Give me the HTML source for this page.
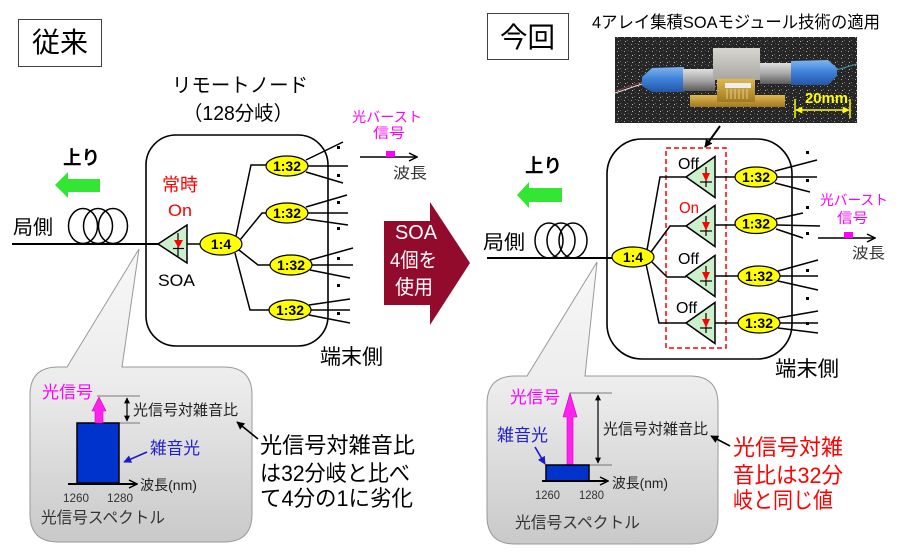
<!DOCTYPE html>
<html><head><meta charset="utf-8"><style>
html,body{margin:0;padding:0;background:#fff;}
svg{display:block;}
text{font-family:"Liberation Sans","Noto Sans CJK JP",sans-serif;}
</style></head><body>
<svg width="900" height="557" viewBox="0 0 900 557" xmlns="http://www.w3.org/2000/svg">
<defs>
<marker id="ah" viewBox="0 0 10 10" refX="9" refY="5" markerWidth="8" markerHeight="8" orient="auto-start-reverse" markerUnits="userSpaceOnUse"><path d="M0,0 L10,5 L0,10 z" fill="#000"/></marker>
<marker id="ahs" viewBox="0 0 10 10" refX="9" refY="5" markerWidth="6" markerHeight="6" orient="auto-start-reverse" markerUnits="userSpaceOnUse"><path d="M0,0 L10,5 L0,10 z" fill="#000"/></marker>
<marker id="ahb" viewBox="0 0 10 10" refX="9" refY="5" markerWidth="8" markerHeight="8" orient="auto" markerUnits="userSpaceOnUse"><path d="M0,0 L10,5 L0,10 z" fill="#1a1acc"/></marker>
<marker id="op" viewBox="0 0 10 10" refX="9" refY="5" markerWidth="10" markerHeight="10" orient="auto" markerUnits="userSpaceOnUse"><path d="M1,1 L9,5 L1,9" fill="none" stroke="#000" stroke-width="1.5"/></marker>
<marker id="ay" viewBox="0 0 10 10" refX="9" refY="5" markerWidth="7" markerHeight="7" orient="auto-start-reverse" markerUnits="userSpaceOnUse"><path d="M0,0 L10,5 L0,10 z" fill="#ffff00"/></marker>
<linearGradient id="cg1" gradientUnits="userSpaceOnUse" x1="0" y1="249" x2="0" y2="542"><stop offset="0" stop-color="#f8f8f8"/><stop offset="0.45" stop-color="#ececec"/><stop offset="1" stop-color="#c9c9c9"/></linearGradient>
<linearGradient id="cg2" gradientUnits="userSpaceOnUse" x1="0" y1="262" x2="0" y2="544"><stop offset="0" stop-color="#f8f8f8"/><stop offset="0.45" stop-color="#ececec"/><stop offset="1" stop-color="#c9c9c9"/></linearGradient>
<linearGradient id="blue" x1="0" y1="0" x2="0" y2="1"><stop offset="0" stop-color="#7fb4f0"/><stop offset="0.5" stop-color="#3d80d8"/><stop offset="1" stop-color="#2556a8"/></linearGradient>
<linearGradient id="silv" x1="0" y1="0" x2="0" y2="1"><stop offset="0" stop-color="#e0e0e0"/><stop offset="0.5" stop-color="#a8a8a8"/><stop offset="1" stop-color="#5a5a5a"/></linearGradient>
<linearGradient id="box" x1="0" y1="0" x2="0" y2="1"><stop offset="0" stop-color="#d8d6d0"/><stop offset="1" stop-color="#a8a6a0"/></linearGradient>
<linearGradient id="gold" x1="0" y1="0" x2="0" y2="1"><stop offset="0" stop-color="#e0b850"/><stop offset="1" stop-color="#a07820"/></linearGradient>
<pattern id="spk" width="7" height="7" patternUnits="userSpaceOnUse"><rect width="7" height="7" fill="#262626"/><rect x="1" y="2" width="1" height="1" fill="#999"/><rect x="4" y="5" width="1" height="1" fill="#666"/><rect x="5" y="1" width="1" height="1" fill="#555"/><rect x="2" y="6" width="1" height="1" fill="#bbb"/></pattern>
</defs>

<!-- ===== LEFT (従来) ===== -->
<rect x="18.5" y="19.5" width="83" height="47" fill="#fff" stroke="#404040" stroke-width="1"/>
<text x="32" y="52" font-size="28" textLength="56" lengthAdjust="spacingAndGlyphs">従来</text>

<text x="172" y="92" font-size="20" textLength="136" lengthAdjust="spacingAndGlyphs">リモートノード</text>
<text x="183" y="120" font-size="20" textLength="110" lengthAdjust="spacingAndGlyphs">（128分岐）</text>

<text x="352" y="122" font-size="14" fill="#ff00ff" textLength="70" lengthAdjust="spacingAndGlyphs">光バースト</text>
<text x="373" y="138" font-size="14" fill="#ff00ff" textLength="32" lengthAdjust="spacingAndGlyphs">信号</text>
<line x1="360" y1="157" x2="417" y2="157" stroke="#000" stroke-width="1.5" marker-end="url(#op)"/>
<rect x="386" y="151" width="9" height="6" fill="#ff00ff"/>
<text x="393" y="178" font-size="15" fill="#333" textLength="34" lengthAdjust="spacingAndGlyphs">波長</text>

<text x="63" y="164" font-size="19" font-weight="bold" textLength="37" lengthAdjust="spacingAndGlyphs">上り</text>
<polygon points="55,185 68,172 68,179 100,179 100,192 68,192 68,198" fill="#33e633"/>
<text x="13" y="234" font-size="20" textLength="40" lengthAdjust="spacingAndGlyphs">局側</text>

<rect x="146" y="135" width="182" height="211" rx="30" ry="30" fill="none" stroke="#000" stroke-width="1.6"/>

<ellipse cx="83" cy="226" rx="14.5" ry="17.5" fill="none" stroke="#000" stroke-width="1.5"/>
<ellipse cx="98" cy="226" rx="14.5" ry="17.5" fill="none" stroke="#000" stroke-width="1.5"/>
<ellipse cx="113" cy="226" rx="14.5" ry="17.5" fill="none" stroke="#000" stroke-width="1.5"/>
<line x1="12" y1="244" x2="158" y2="244" stroke="#000" stroke-width="2"/>

<!-- left callout -->
<path d="M58,367 L67,367 L139,249 L122,367 L224,367 Q252,367 252,395 L252,514 Q252,542 224,542 L58,542 Q30,542 30,514 L30,395 Q30,367 58,367 Z" fill="url(#cg1)" stroke="#999" stroke-width="1"/>

<text x="162" y="191" font-size="18" fill="#ff0000" textLength="36" lengthAdjust="spacingAndGlyphs">常時</text>
<text x="168" y="216" font-size="17" fill="#ff0000" textLength="24" lengthAdjust="spacingAndGlyphs">On</text>
<polygon points="158,244 187,225 187,263" fill="#ccf0cc" stroke="#000" stroke-width="1.5"/>
<line x1="178" y1="233" x2="178" y2="257" stroke="#000" stroke-width="1.2"/>
<polygon points="174,240 183,240 178.5,248" fill="#ff0000"/>
<line x1="173" y1="248.5" x2="184" y2="248.5" stroke="#000" stroke-width="1.2"/>
<text x="158" y="286" font-size="17" textLength="37" lengthAdjust="spacingAndGlyphs">SOA</text>
<line x1="187" y1="244" x2="200" y2="244" stroke="#000" stroke-width="1.5"/>

<g fill="none" stroke="#000" stroke-width="1.5">
<polyline points="236,236 251,165 267,165"/>
<polyline points="240,240 262,213 266,213"/>
<polyline points="239,250 258,265 270,265"/>
<polyline points="235,253 250,310 269,310"/>
<line x1="306" y1="160" x2="343" y2="142"/><line x1="308" y1="166" x2="348" y2="166"/><line x1="306" y1="172" x2="343" y2="183"/>
<line x1="306" y1="207" x2="347" y2="195"/><line x1="308" y1="213" x2="348" y2="213"/><line x1="306" y1="219" x2="348" y2="225"/>
<line x1="310" y1="260" x2="353" y2="248"/><line x1="312" y1="265" x2="353" y2="265"/><line x1="310" y1="270" x2="350" y2="278"/>
<line x1="309" y1="305" x2="350" y2="299"/><line x1="311" y1="310" x2="350" y2="310"/><line x1="309" y1="315" x2="350" y2="323"/>
</g>
<g fill="#000">
<rect x="337" y="146" width="3" height="3"/><rect x="337" y="174" width="3" height="3"/>
<rect x="337" y="201" width="3" height="3"/><rect x="337" y="227" width="3" height="3"/>
<rect x="337" y="257" width="3" height="3"/><rect x="337" y="284" width="3" height="3"/>
<rect x="337" y="312" width="3" height="3"/>
</g>

<g stroke="#000" stroke-width="1.2" fill="#ffff00">
<ellipse cx="221" cy="244" rx="21" ry="11"/>
<ellipse cx="287" cy="166" rx="21" ry="10"/>
<ellipse cx="287" cy="213" rx="21" ry="10"/>
<ellipse cx="291" cy="265" rx="21" ry="10"/>
<ellipse cx="290" cy="310" rx="21" ry="10"/>
</g>
<g font-size="14" font-weight="bold" text-anchor="middle">
<text x="221" y="249">1:4</text>
<text x="287" y="171">1:32</text>
<text x="287" y="218">1:32</text>
<text x="291" y="270">1:32</text>
<text x="290" y="315">1:32</text>
</g>
<text x="320" y="364" font-size="21" textLength="63" lengthAdjust="spacingAndGlyphs">端末側</text>

<!-- left callout content -->
<text x="42" y="398" font-size="17" fill="#ff00ff" textLength="51" lengthAdjust="spacingAndGlyphs">光信号</text>
<line x1="97" y1="396" x2="140" y2="396" stroke="#555" stroke-width="0.8"/>
<line x1="119" y1="423" x2="140" y2="423" stroke="#555" stroke-width="0.8"/>
<rect x="77" y="423" width="42" height="60" fill="#0033cc" stroke="#000" stroke-width="1.5"/>
<polygon points="95,423 95,411 92,411 99,397 106,411 103,411 103,423" fill="#ff22ee" stroke="#cc00bb" stroke-width="0.6"/>
<line x1="127" y1="398" x2="127" y2="421" stroke="#000" stroke-width="1.2" marker-start="url(#ahs)" marker-end="url(#ahs)"/>
<text x="133" y="415" font-size="15" fill="#222" textLength="105" lengthAdjust="spacingAndGlyphs">光信号対雑音比</text>
<text x="150" y="454" font-size="17" fill="#2222cc" textLength="50" lengthAdjust="spacingAndGlyphs">雑音光</text>
<line x1="147" y1="452" x2="124" y2="462" stroke="#1a1acc" stroke-width="1.6" marker-end="url(#ahb)"/>
<line x1="68" y1="484" x2="137" y2="484" stroke="#000" stroke-width="2" marker-end="url(#op)"/>
<text x="140" y="490" font-size="14" fill="#222" textLength="57" lengthAdjust="spacingAndGlyphs">波長(nm)</text>
<text x="63" y="502" font-size="12" fill="#333" textLength="26" lengthAdjust="spacingAndGlyphs">1260</text>
<text x="107" y="502" font-size="12" fill="#333" textLength="26" lengthAdjust="spacingAndGlyphs">1280</text>
<text x="41" y="523" font-size="16" fill="#333" textLength="124" lengthAdjust="spacingAndGlyphs">光信号スペクトル</text>

<line x1="258" y1="439" x2="237" y2="422" stroke="#000" stroke-width="1.6" marker-end="url(#ah)"/>
<text x="260" y="453" font-size="22" textLength="155" lengthAdjust="spacingAndGlyphs">光信号対雑音比</text>
<text x="260" y="481" font-size="22" textLength="150" lengthAdjust="spacingAndGlyphs">は32分岐と比べ</text>
<text x="260" y="506" font-size="22" textLength="153" lengthAdjust="spacingAndGlyphs">て4分の1に劣化</text>

<!-- ===== CENTER ARROW ===== -->
<polygon points="384,221 430,221 430,202 470,263 430,325 430,305 384,305" fill="#930b2c"/>
<text x="395" y="239" font-size="20" fill="#fff" textLength="42" lengthAdjust="spacingAndGlyphs">SOA</text>
<text x="390" y="267" font-size="20" fill="#fff" textLength="47" lengthAdjust="spacingAndGlyphs">4個を</text>
<text x="395" y="294" font-size="20" fill="#fff" textLength="38" lengthAdjust="spacingAndGlyphs">使用</text>

<!-- ===== RIGHT (今回) ===== -->
<rect x="487.5" y="13.5" width="81" height="46" fill="#fff" stroke="#404040" stroke-width="1"/>
<text x="500" y="47" font-size="28" textLength="55" lengthAdjust="spacingAndGlyphs">今回</text>
<text x="592" y="28" font-size="17" textLength="288" lengthAdjust="spacingAndGlyphs">4アレイ集積SOAモジュール技術の適用</text>

<!-- photo -->
<rect x="615" y="37" width="242" height="86" fill="url(#spk)"/>
<polyline points="615,93 642,84" fill="none" stroke="#e8e8e8" stroke-width="1"/>
<polyline points="615,91 642,82" fill="none" stroke="#c04040" stroke-width="0.6"/>
<polyline points="836,70 857,64" fill="none" stroke="#40a0a0" stroke-width="1"/>
<polygon points="642,77 652,68 684,67 684,92 652,92 642,86" fill="url(#blue)"/>
<rect x="683" y="69" width="32" height="22" fill="url(#silv)"/>
<rect x="690" y="95" width="95" height="12" fill="url(#gold)"/>
<rect x="713" y="48" width="47" height="32" fill="url(#box)"/>
<rect x="717" y="79" width="38" height="23" fill="url(#gold)"/>
<rect x="725" y="83" width="26" height="5" fill="#eee"/>
<g stroke="#f0e0b0" stroke-width="0.8"><line x1="727" y1="89" x2="727" y2="99"/><line x1="731" y1="89" x2="731" y2="99"/><line x1="735" y1="89" x2="735" y2="99"/><line x1="739" y1="89" x2="739" y2="99"/><line x1="743" y1="89" x2="743" y2="99"/><line x1="747" y1="89" x2="747" y2="99"/></g>
<rect x="760" y="63" width="32" height="21" fill="url(#silv)"/>
<polygon points="791,61 828,60 837,68 837,76 828,85 791,85" fill="url(#blue)"/>
<text x="805" y="103" font-size="15" font-weight="bold" fill="#ffff00" textLength="43" lengthAdjust="spacingAndGlyphs">20mm</text>
<line x1="796" y1="110" x2="849" y2="110" stroke="#ffff00" stroke-width="1.5" marker-start="url(#ay)" marker-end="url(#ay)"/>
<line x1="795" y1="99" x2="795" y2="118" stroke="#ffff00" stroke-width="1.5"/>
<line x1="850" y1="99" x2="850" y2="118" stroke="#ffff00" stroke-width="1.5"/>

<line x1="720" y1="126" x2="705" y2="147" stroke="#000" stroke-width="2" marker-end="url(#ah)"/>

<text x="525" y="172" font-size="19" font-weight="bold" textLength="37" lengthAdjust="spacingAndGlyphs">上り</text>
<polygon points="517,195 529,182 529,188 562,188 562,202 529,202 529,208" fill="#33e633"/>
<text x="483" y="249" font-size="20" textLength="42" lengthAdjust="spacingAndGlyphs">局側</text>

<rect x="607" y="139" width="185" height="220" rx="35" ry="35" fill="none" stroke="#000" stroke-width="1.6"/>
<rect x="666" y="148" width="60" height="200" fill="none" stroke="#ff0000" stroke-width="1.5" stroke-dasharray="5,3"/>

<ellipse cx="549" cy="240.5" rx="14" ry="17.5" fill="none" stroke="#000" stroke-width="1.5"/>
<ellipse cx="561" cy="240.5" rx="14" ry="17.5" fill="none" stroke="#000" stroke-width="1.5"/>
<ellipse cx="573" cy="240.5" rx="14" ry="17.5" fill="none" stroke="#000" stroke-width="1.5"/>
<line x1="487" y1="258" x2="612" y2="258" stroke="#000" stroke-width="2"/>

<!-- right callout -->
<path d="M515,376 L527,376 L597,262 L585,376 L690,376 Q718,376 718,404 L718,516 Q718,544 690,544 L515,544 Q487,544 487,516 L487,404 Q487,376 515,376 Z" fill="url(#cg2)" stroke="#999" stroke-width="1"/>

<g fill="none" stroke="#000" stroke-width="1.5">
<polyline points="647,250 660,177 687,177"/>
<polyline points="651,252 670,226 686,226"/>
<polyline points="652,262 667,277 686,277"/>
<polyline points="646,264 659,323 686,323"/>
<line x1="715" y1="177" x2="735" y2="177"/>
<line x1="715" y1="225" x2="735" y2="225"/>
<line x1="715" y1="276" x2="738" y2="276"/>
<line x1="715" y1="323" x2="738" y2="323"/>
<line x1="775" y1="171" x2="817" y2="160"/><line x1="777" y1="177" x2="817" y2="177"/><line x1="775" y1="183" x2="810" y2="192"/>
<line x1="776" y1="219" x2="803" y2="213"/><line x1="777" y1="225" x2="820" y2="226"/><line x1="776" y1="229" x2="803" y2="238"/>
<line x1="778" y1="271" x2="818" y2="260"/><line x1="780" y1="276" x2="818" y2="276"/><line x1="778" y1="281" x2="818" y2="290"/>
<line x1="778" y1="318" x2="818" y2="311"/><line x1="780" y1="323" x2="818" y2="323"/><line x1="778" y1="328" x2="818" y2="333"/>
</g>
<g fill="#000">
<rect x="806" y="151" width="3" height="3"/><rect x="806" y="179" width="3" height="3"/>
<rect x="806" y="206" width="3" height="3"/><rect x="806" y="232" width="3" height="3"/>
<rect x="806" y="269" width="3" height="3"/><rect x="806" y="297" width="3" height="3"/>
<rect x="806" y="322" width="3" height="3"/>
</g>

<g stroke="#000" stroke-width="1.5" fill="#ccf0cc">
<polygon points="686,177 715,156.5 715,197.5"/>
<polygon points="686,226 715,205.5 715,246.5"/>
<polygon points="686,276 715,255.5 715,296.5"/>
<polygon points="686,323 715,302.5 715,343.5"/>
</g>
<g stroke="#000" stroke-width="1.2">
<line x1="706" y1="167" x2="706" y2="187"/><line x1="700" y1="182" x2="712" y2="182"/>
<line x1="706" y1="216" x2="706" y2="236"/><line x1="700" y1="231" x2="712" y2="231"/>
<line x1="706" y1="266" x2="706" y2="286"/><line x1="700" y1="281" x2="712" y2="281"/>
<line x1="706" y1="313" x2="706" y2="333"/><line x1="700" y1="328" x2="712" y2="328"/>
</g>
<g fill="#ff0000">
<polygon points="702,173 710,173 706,181.5"/>
<polygon points="702,222 710,222 706,230.5"/>
<polygon points="702,272 710,272 706,280.5"/>
<polygon points="702,319 710,319 706,327.5"/>
</g>
<text x="678" y="169" font-size="16" textLength="21" lengthAdjust="spacingAndGlyphs">Off</text>
<text x="679" y="213" font-size="16" fill="#ff0000" textLength="20" lengthAdjust="spacingAndGlyphs">On</text>
<text x="678" y="264" font-size="16" textLength="21" lengthAdjust="spacingAndGlyphs">Off</text>
<text x="676" y="313" font-size="16" textLength="21" lengthAdjust="spacingAndGlyphs">Off</text>

<g stroke="#000" stroke-width="1.2" fill="#ffff00">
<ellipse cx="633" cy="257" rx="21" ry="10"/>
<ellipse cx="756" cy="177" rx="21" ry="10"/>
<ellipse cx="756" cy="223.5" rx="21" ry="10"/>
<ellipse cx="759" cy="276" rx="21" ry="10"/>
<ellipse cx="759" cy="323" rx="21" ry="10"/>
</g>
<g font-size="14" font-weight="bold" text-anchor="middle">
<text x="633" y="262">1:4</text>
<text x="756" y="182">1:32</text>
<text x="756" y="228.5">1:32</text>
<text x="759" y="281">1:32</text>
<text x="759" y="328">1:32</text>
</g>

<text x="820" y="205" font-size="14" fill="#ff00ff" textLength="68" lengthAdjust="spacingAndGlyphs">光バースト</text>
<text x="837" y="223" font-size="14" fill="#ff00ff" textLength="31" lengthAdjust="spacingAndGlyphs">信号</text>
<line x1="818" y1="238" x2="875" y2="238" stroke="#000" stroke-width="1.5" marker-end="url(#op)"/>
<rect x="844" y="232" width="9" height="6" fill="#ff00ff"/>
<text x="852" y="258" font-size="15" fill="#333" textLength="33" lengthAdjust="spacingAndGlyphs">波長</text>
<text x="775" y="376" font-size="21" textLength="64" lengthAdjust="spacingAndGlyphs">端末側</text>

<!-- right callout content -->
<text x="510" y="403" font-size="17" fill="#ff00ff" textLength="50" lengthAdjust="spacingAndGlyphs">光信号</text>
<line x1="570" y1="393" x2="612" y2="393" stroke="#555" stroke-width="0.8"/>
<line x1="589" y1="465" x2="612" y2="465" stroke="#555" stroke-width="0.8"/>
<polygon points="567,465 567,417 563,417 570,393 577,417 573,417 573,465" fill="#ff22ee" stroke="#cc00bb" stroke-width="0.6"/>
<rect x="546" y="465" width="43" height="16" fill="#0033cc" stroke="#000" stroke-width="1.5"/>
<line x1="598" y1="395" x2="598" y2="463" stroke="#000" stroke-width="1.2" marker-start="url(#ahs)" marker-end="url(#ahs)"/>
<text x="603" y="434" font-size="15" fill="#222" textLength="105" lengthAdjust="spacingAndGlyphs">光信号対雑音比</text>
<text x="497" y="441" font-size="17" fill="#2222cc" textLength="51" lengthAdjust="spacingAndGlyphs">雑音光</text>
<line x1="535" y1="447" x2="545" y2="464" stroke="#1a1acc" stroke-width="1.6" marker-end="url(#ahb)"/>
<line x1="542" y1="481" x2="608" y2="481" stroke="#000" stroke-width="2" marker-end="url(#op)"/>
<text x="612" y="488" font-size="14" fill="#222" textLength="56" lengthAdjust="spacingAndGlyphs">波長(nm)</text>
<text x="535" y="499" font-size="12" fill="#333" textLength="25" lengthAdjust="spacingAndGlyphs">1260</text>
<text x="579" y="499" font-size="12" fill="#333" textLength="25" lengthAdjust="spacingAndGlyphs">1280</text>
<text x="515" y="528" font-size="16" fill="#333" textLength="125" lengthAdjust="spacingAndGlyphs">光信号スペクトル</text>

<line x1="730" y1="446" x2="711" y2="436" stroke="#000" stroke-width="1.6" marker-end="url(#ah)"/>
<text x="733" y="455" font-size="22" fill="#ff0000" textLength="110" lengthAdjust="spacingAndGlyphs">光信号対雑</text>
<text x="733" y="483" font-size="22" fill="#ff0000" textLength="110" lengthAdjust="spacingAndGlyphs">音比は32分</text>
<text x="733" y="508" font-size="22" fill="#ff0000" textLength="100" lengthAdjust="spacingAndGlyphs">岐と同じ値</text>
</svg>
</body></html>
